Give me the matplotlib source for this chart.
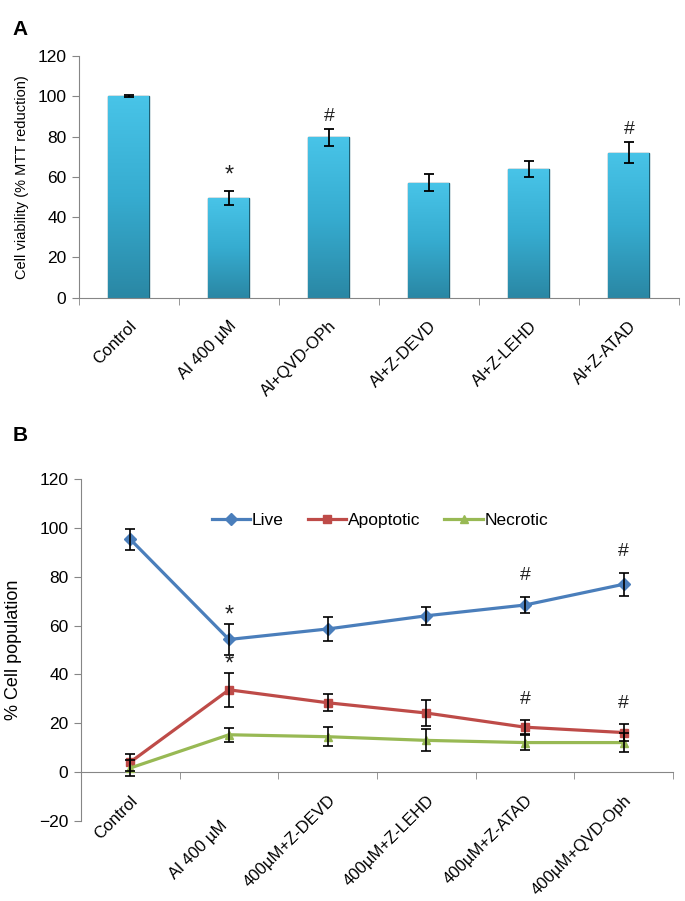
import numpy as np
import matplotlib.pyplot as plt
from matplotlib.colors import LinearSegmentedColormap
from matplotlib.transforms import ScaledTranslation

plt.rcParams['font.family'] = ['Liberation Sans', 'DejaVu Sans']

# Panel A data: MTT cell viability
a_labels = ["Control", "Al 400 µM", "Al+QVD-OPh", "Al+Z-DEVD", "Al+Z-LEHD", "Al+Z-ATAD"]
a_values = [100.0, 49.5, 79.6, 57.0, 63.8, 72.0]
a_errors = [0.5, 3.4, 4.2, 4.2, 3.9, 5.2]
a_marks = ["", "*", "#", "", "", "#"]

# Panel B data: cell population
b_labels = ["Control", "Al 400 µM", "400µM+Z-DEVD", "400µM+Z-LEHD", "400µM+Z-ATAD", "400µM+QVD-Oph"]
live = [95.3, 54.3, 58.6, 64.0, 68.4, 76.9]
live_err = [4.2, 6.2, 4.8, 3.7, 3.4, 4.7]
live_marks = ["", "*", "", "", "#", "#"]
apop = [4.1, 33.7, 28.4, 24.2, 18.4, 16.2]
apop_err = [3.5, 6.9, 3.5, 5.5, 2.8, 3.5]
apop_marks = ["", "*", "", "", "#", "#"]
necro = [1.7, 15.3, 14.5, 13.0, 12.1, 12.1]
necro_err = [3.2, 2.9, 3.8, 4.5, 3.0, 4.0]

fig = plt.figure(figsize=(6.85, 9.01), dpi=100)
axis_gray = '#868686'
mark_size = {'*': 17, '#': 14}


def add_mark(ax, xi, top, m, off_hash, off_star):
    off = off_star if m == '*' else off_hash
    ax.annotate(m, (xi, top), xytext=(0, off), textcoords='offset points',
                ha='center', va='center', fontsize=mark_size[m], color='#222222', zorder=6)


# ---------------- Panel A ----------------
ax1 = fig.add_axes([0.1153, 0.6696, 0.8759, 0.2683])
x = np.arange(len(a_labels))
bars = ax1.bar(x, a_values, width=0.41, color='#38b0d3', edgecolor='#1d5f73', linewidth=1.0, zorder=2)
cmap = LinearSegmentedColormap.from_list('bar', ['#2a87a4', '#36acd0', '#48c4e8'])
for b in bars:
    x0, y0 = b.get_x(), b.get_y()
    img = ax1.imshow(np.linspace(0, 1, 256).reshape(-1, 1), extent=[x0, x0 + b.get_width(), y0, y0 + b.get_height()],
                     origin='lower', cmap=cmap, aspect='auto', zorder=2.5)
    img.set_clip_path(b)
ax1.errorbar(x, a_values, yerr=a_errors, fmt='none', ecolor='black', elinewidth=1.3, capsize=3.5, capthick=1.3, zorder=4)
for xi, v, e, m in zip(x, a_values, a_errors, a_marks):
    if m:
        add_mark(ax1, xi, v + e, m, 9, 11)
ax1.set_xlim(-0.5, len(a_labels) - 0.5)
ax1.set_ylim(0, 120)
ax1.set_yticks(range(0, 121, 20))
ax1.set_xticks(x)
ax1.set_xticklabels(a_labels, rotation=45, ha='right', rotation_mode='anchor', fontsize=12)
ax1.set_xticks(np.arange(-0.5, len(a_labels)), minor=True)
ax1.tick_params(axis='x', which='major', length=0, pad=15)
ax1.tick_params(axis='x', which='minor', length=5, color=axis_gray)
ax1.tick_params(axis='y', length=5, color=axis_gray, labelsize=12.5, pad=4)
ax1.set_ylabel('Cell viability (% MTT reduction)', fontsize=10.5, labelpad=6)
for s in ['top', 'right']:
    ax1.spines[s].set_visible(False)
for s in ['left', 'bottom']:
    ax1.spines[s].set_color(axis_gray)

# ---------------- Panel B ----------------
ax2 = fig.add_axes([0.1182, 0.0888, 0.8642, 0.3796])
xb = np.arange(len(b_labels))
series = [(live, live_err, '#4a7ebb', 'D', 'Live'),
          (apop, apop_err, '#be4b48', 's', 'Apoptotic'),
          (necro, necro_err, '#98b954', '^', 'Necrotic')]
for vals, errs, col, mk, name in series:
    ax2.plot(xb, vals, color=col, marker=mk, markersize=6, linewidth=2.3, label=name, zorder=3)
    ax2.errorbar(xb, vals, yerr=errs, fmt='none', ecolor='black', elinewidth=1.2, capsize=3.5, capthick=1.2, zorder=4)
for vals, errs, marks in [(live, live_err, live_marks), (apop, apop_err, apop_marks)]:
    for xi, v, e, m in zip(xb, vals, errs, marks):
        if m:
            add_mark(ax2, xi, v + e, m, 15, 6)
ax2.set_xlim(-0.5, len(b_labels) - 0.5)
ax2.set_ylim(-20, 120)
ax2.set_yticks(range(-20, 121, 20))
ax2.spines['bottom'].set_position(('data', 0))
ax2.set_xticks(xb)
ax2.set_xticklabels(b_labels, rotation=45, ha='right', rotation_mode='anchor', fontsize=12)
ax2.set_xticks(np.arange(-0.5, len(b_labels)), minor=True)
ax2.tick_params(axis='x', which='major', length=0, pad=15)
ax2.tick_params(axis='x', which='minor', length=5, color=axis_gray)
ax2.tick_params(axis='y', length=5, color=axis_gray, labelsize=12.5, pad=4)
# the "Al 400 µM" label sits lower in the original figure
lbl = ax2.get_xticklabels()[1]
lbl.set_transform(lbl.get_transform() + ScaledTranslation(-0.09, -0.25, fig.dpi_scale_trans))
ax2.set_ylabel('% Cell population', fontsize=13, labelpad=12)
for s in ['top', 'right']:
    ax2.spines[s].set_visible(False)
for s in ['left', 'bottom']:
    ax2.spines[s].set_color(axis_gray)
ax2.legend(loc='center', bbox_to_anchor=(0.505, 0.88), ncol=3, frameon=False, fontsize=12.5,
           handlelength=2.2, columnspacing=1.4, handletextpad=0.1)

fig.text(0.018, 0.978, 'A', fontsize=15, fontweight='bold', va='top')
fig.text(0.018, 0.527, 'B', fontsize=15, fontweight='bold', va='top')

fig.savefig('out.png', dpi=100)
